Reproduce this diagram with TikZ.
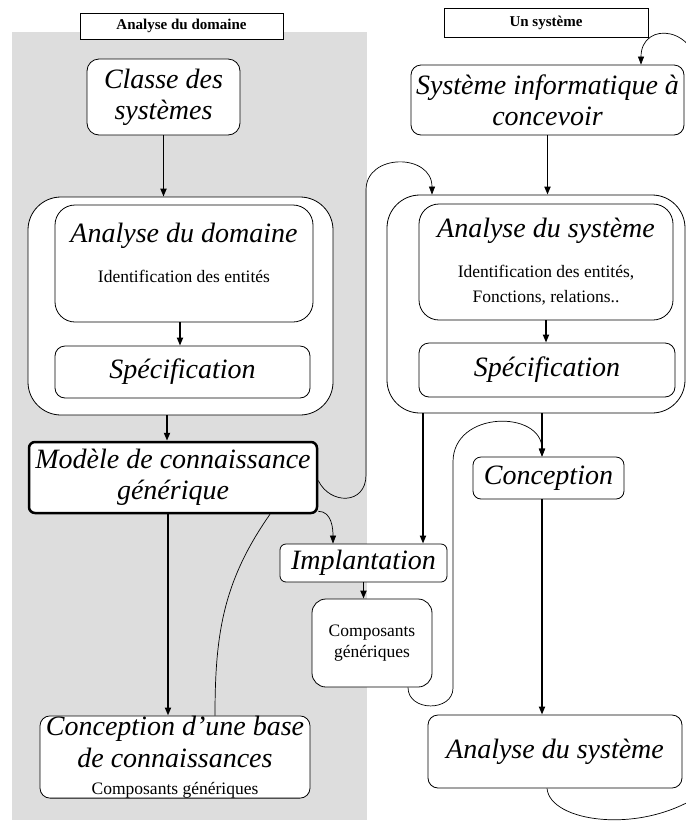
\documentclass[tikz,border=0pt]{standalone}
\usepackage{fontspec}
\setmainfont{Liberation Serif}
\usepackage{xcolor}
\usetikzlibrary{arrows.meta,positioning,calc}
\definecolor{panelgrey}{HTML}{DDDDDD}
\newcommand{\bigit}{\fontsize{28}{31}\selectfont\itshape}
\newcommand{\smallrm}{\fontsize{17.5}{21}\selectfont\upshape}
\newcommand{\hdrfont}{\fontsize{15}{18}\selectfont\bfseries}

\begin{document}
\begin{tikzpicture}[x=1pt,y=-1pt,
  box/.style={draw,fill=white,rounded corners=#1,inner sep=0pt,align=center,
              font=\bigit,line width=0.8pt},
  box/.default=10pt,
  cont/.style={draw,fill=white,rounded corners=33pt,inner sep=0pt,line width=0.8pt},
  hdr/.style={draw,fill=white,inner sep=0pt,font=\hdrfont,line width=0.8pt,
              text height=10pt,text depth=3pt},
  arr/.style={-{Triangle[length=8pt,width=6pt]},line width=1.8pt},
  link/.style={line width=0.7pt},
  linkarr/.style={link,-{Triangle[length=8pt,width=6pt]}}
]
\useasboundingbox (0,0) rectangle (686,823);
\clip (0,0) rectangle (686,823);
\fill[panelgrey] (12,32) rectangle (367,820);

\node[hdr,minimum width=203pt,minimum height=26pt] (hdom) at (181.5,26) {Analyse du domaine};
\node[hdr,minimum width=204pt,minimum height=29pt] (hsys) at (546,22.5) {Un système};

\node[box=12pt,minimum width=153pt,minimum height=76pt] (cls) at (163.5,97) {Classe des\\systèmes};
\node[cont,minimum width=305pt,minimum height=218pt] (lcont) at (180.5,306) {};
\node[box=20pt,minimum width=258pt,minimum height=117pt,text depth=21pt] (dom) at (184,263.5)
  {Analyse du domaine\\[9pt]{\smallrm Identification des entités}};
\node[box,minimum width=255pt,minimum height=52pt] (spg) at (182.5,372) {Spécification};
\node[box=6pt,minimum width=288pt,minimum height=71pt,line width=2.5pt] (mod) at (173,477.5)
  {Modèle de connaissance\\générique};
\node[box,minimum width=270pt,minimum height=82pt] (base) at (175,757)
  {Conception d’une base\\[1pt]de connaissances\\[-4pt]{\smallrm Composants génériques}};

\node[box,minimum width=273pt,minimum height=70pt] (sys) at (547.5,100) {Système informatique à\\concevoir};
\node[cont,minimum width=298pt,minimum height=218pt] (rcont) at (536,304) {};
\node[box=20pt,minimum width=254pt,minimum height=116pt] (ana) at (546,262)
  {Analyse du système\\[9pt]{\smallrm Identification des entités,}\\[-6pt]{\smallrm Fonctions, relations..}};
\node[box,minimum width=256pt,minimum height=54pt] (sps) at (547,370) {Spécification};
\node[box=6pt,minimum width=167pt,minimum height=38pt] (impl) at (363.5,563) {Implantation};
\node[box=14pt,minimum width=120pt,minimum height=88pt,font=\smallrm] (comp) at (372,643) {Composants\\génériques};
\node[box=8pt,minimum width=151pt,minimum height=42pt] (conc) at (548.5,478) {Conception};
\node[box,minimum width=254pt,minimum height=73pt] (anb) at (555,751.5) {Analyse du système};

\coordinate (sysloop) at (700,80);
\coordinate (anbloop) at (700,795);

\draw[arr] (cls.south) -- (cls.south |- lcont.north);
\draw[arr] ([xshift=-4pt]dom.south) -- ([xshift=-4pt]dom.south |- spg.north);
\draw[arr] ([xshift=-6pt]mod.north |- lcont.south) -- ([xshift=-6pt]mod.north);
\draw[arr] ([xshift=-5pt]mod.south) -- ([xshift=-5pt]mod.south |- base.north);
\draw[link] ([xshift=40pt]base.north) to[out=90,in=-125] ([xshift=97pt]mod.south);
\draw[linkarr] ([yshift=-3pt]mod.east) .. controls (330,505) and (366,505) .. (366,475)
  -- (366,190) .. controls (366,153) and (432,153) .. ([xshift=-104pt]rcont.north);
\draw[linkarr] ([yshift=3pt]mod.south east) to[out=0,in=90] ([xshift=-30.5pt]impl.north);

\draw[arr] (sys.south) -- (sys.south |- rcont.north);
\draw[arr] (ana.south) -- (ana.south |- sps.north);
\draw[arr] ([xshift=59.5pt]impl.north |- rcont.south) -- ([xshift=59.5pt]impl.north);
\draw[arr] (impl.south) -- (impl.south |- comp.north);
\draw[linkarr] ([xshift=36pt]comp.south) .. controls (408,712) and (453,712) .. (453,688)
  -- (453,462) .. controls (453,410) and (542,410) .. ([xshift=-6.5pt]conc.north);
\draw[arr] ([xshift=-6.5pt]conc.north |- rcont.south) -- ([xshift=-6.5pt]conc.north);
\draw[arr] ([xshift=-6.5pt]conc.south) -- ([xshift=-6.5pt]conc.south |- anb.north);
\draw[linkarr] (sysloop) .. controls (700,25) and (641,20) .. ([xshift=93.5pt]sys.north);
\draw[link] ([xshift=-8pt]anb.south) .. controls (550,822) and (640,835) .. (anbloop);
\end{tikzpicture}
\end{document}
